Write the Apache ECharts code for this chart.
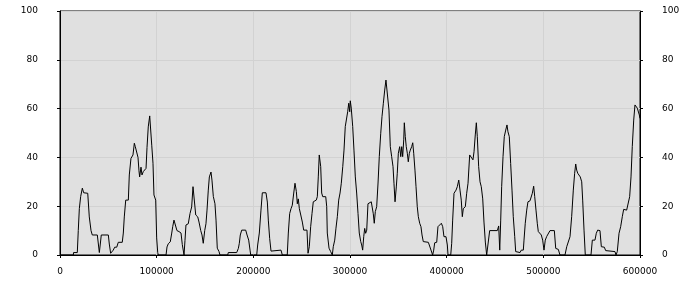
<!DOCTYPE html>
<html>
<head>
<meta charset="utf-8">
<script src="https://cdn.jsdelivr.net/npm/echarts@6/dist/echarts.min.js"></script>
<style>html,body{margin:0;padding:0;background:#fff;}#c{width:700px;height:300px;}</style>
</head>
<body>
<div id="c"></div>
<script>
var xValues = [0,13800,14000,17900,18900,20000,21400,23100,24500,28700,29300,30300,32100,33400,38600,39600,40700,41700,42700,50000,51000,52400,54100,55100,56600,58700,60300,64400,65500,66500,68000,69300,70700,71700,73400,75500,76900,77900,79300,80700,81700,82400,83800,84800,86200,87900,89000,90000,91300,92800,93800,94900,96200,97200,99000,100000,101100,101700,109700,110700,112000,114100,115600,116600,117900,119700,121000,123100,125200,126500,128300,129300,130300,132700,134500,136200,137600,138900,140400,142500,143800,145600,146900,148200,149700,151000,152100,153400,154500,156200,157200,158600,160300,161400,162700,164500,165500,173500,174100,182800,184500,185500,186500,188000,192100,193500,195200,196600,197300,203500,204500,206200,207900,209300,213100,214500,215500,216900,218300,219300,228600,230000,235100,236200,237600,239000,240300,241800,243100,244500,245500,246500,247600,249300,250700,252100,255500,256600,257900,259300,260700,262000,265100,266200,267200,268200,269000,269700,270700,271800,274900,275900,276500,278300,280000,281700,282700,284200,285500,286900,288300,289700,291000,292500,293800,295100,296600,297600,298700,299700,300300,301300,302800,304100,305500,306900,308300,309600,311100,312100,313100,314200,315200,316200,317300,318600,320000,322000,323100,324100,325100,326200,327600,329000,330300,331800,333100,334500,335900,337200,338600,339000,340300,341700,343100,344500,345500,346600,347900,348900,350000,351400,352500,353500,354500,355600,356200,357200,358200,359300,360300,361400,362400,363800,364900,365900,367200,368300,369600,370700,372100,373400,374500,375800,381000,382000,383800,385500,386600,387600,389700,391000,392400,394500,395900,397200,399300,400700,401400,404200,405200,406200,407600,409700,411000,412500,413800,415100,416200,417200,419300,420700,422100,423800,425500,427200,428300,429600,430700,431700,433100,434500,435800,437300,438600,440000,441400,442800,444500,452400,453800,454900,455900,456900,458300,459600,461100,462400,463400,464800,466200,467600,468900,470400,471400,472800,475900,477200,479300,480000,481300,482800,484100,486200,487600,488600,490000,491100,492400,493800,494800,496600,497900,499300,500700,502000,503500,505100,506900,511400,512800,515500,517200,522400,524200,525800,527600,529300,531000,532400,533500,534500,535600,536900,538200,539700,540700,542100,543400,549300,550700,553400,554800,556200,558600,560000,563100,564500,574100,575200,576500,578300,580000,581700,583100,584500,586200,587900,589300,590700,592000,593500,594800,596200,597200,598200,599300,600000];
var yValues = [0,0,1,1,10,19,24,27.4,25.5,25.3,24.6,15.6,10,8.2,8.2,7.5,1,4.5,8.2,8.2,4.5,0.7,0,2,3.2,3.2,5.2,5.2,9,15.6,22.5,23.2,22.5,32.8,39.6,41,45.8,44.4,43.7,40,34.5,32,36,32.8,34.2,33.5,35.5,44,52.5,57,56.6,45,37.6,24.6,22.5,7,1,0,0,3.3,4.6,5.4,9,11.6,14.3,14.3,10,9.6,9,4.3,0,6,12.3,12.8,17,19.7,28,28,16.4,15.6,13.5,10,8.2,4.8,10,12.8,18.4,26.6,32,34,30.7,24,21,14.3,2.8,1.4,0,0,1,1,2.7,4.8,8.2,10.2,10.2,8.2,6.1,2,0,0,4.1,9,18.4,25.5,25.5,21.7,14.3,6.8,1.6,2,2,0,0,9,17,19,20.4,25.4,29.4,26,21,23,19,18.4,13.5,10.2,10.2,0.7,3.4,11.6,17,21.8,22.5,23.9,32,41,40.3,36.2,25.4,23.9,23.9,19.8,9,2.8,1.4,0,3.4,6.1,11,15.7,22.5,25.4,29.4,36.2,43,52.6,53,58.7,62.2,58.7,63.2,60.2,52.6,43,32,25.4,17,9,5.5,4.1,2,7.5,10.9,8.9,10.2,21,21.8,21.8,21,16.9,13,17.8,19.8,29.5,40.3,49.9,56.7,62.2,67.6,71.7,72.4,71.7,59.4,44.4,40.3,36.2,29.4,21.8,27.9,33.5,41.7,44.4,40.3,44.4,40.3,47.2,54.2,48.5,44.4,41.7,38.2,41.7,43,44.4,46,41.7,34.8,28,19.8,15.7,13,11.6,8.2,5.5,5.2,4.1,3.4,0,2,5,5.2,11.6,12.3,13,11.6,7.5,7.5,4.1,0,0,4.8,14.3,25.3,26.6,28,30.7,26.6,22.5,15.7,19,19.8,25.3,29.4,41,40.3,39,42.3,49.2,54.2,48.5,36.2,30,28,23,13.5,5.3,0,0,10,10,11.9,2,14.3,28,40.3,48.5,51.2,53.3,50.5,48.5,37.5,26.6,15.7,7.5,1.4,1,1,2,2,6.1,13,18.4,21.8,22.2,22.5,25.3,28.2,23.9,18.4,12.8,9.6,8.9,8.2,6.1,2,6.1,7.6,7.4,10,10,2.7,2.3,0,0,3.4,4.1,7.5,15.7,26.6,33.5,37.3,34.8,33.5,33.5,32,30,22.5,10.2,0,0,6.1,6.1,8.9,10.2,10,3.4,3.2,1.8,1.4,0,1.4,8.9,11.6,15.7,18.7,19.1,18.4,19.1,23.9,32,44.4,55.3,61.5,61.9,60.2,59.8,57.4,56];
var xTicks = [0,100000,200000,300000,400000,500000,600000];
var yTicks = [0,20,40,60,80,100];

var points = xValues.map(function(x, i){ return [x, yValues[i]]; });
var chart = echarts.init(document.getElementById('c'), null, {renderer:'canvas'});
var font = {fontFamily:'DejaVu Sans', fontSize:9, color:'#000', formatter:function(v){ return String(v); }};
function yAxisDef(pos){
  return {
    type:'value', position:pos, min:yTicks[0], max:yTicks[yTicks.length-1], interval:20,
    axisLine:{show:true, lineStyle:{color:'#000', width:1}},
    axisTick:{show:true, inside:false, length:3, lineStyle:{color:'#000'}},
    axisLabel:Object.assign({margin:22}, font),
    splitLine:{show:pos==='left', lineStyle:{color:'#d2d2d2', width:1}}
  };
}
chart.setOption({
  animation:false,
  backgroundColor:'#fff',
  grid:{left:60, right:60, top:11, bottom:45, show:true, backgroundColor:'#e0e0e0', borderColor:'#000', borderWidth:1},
  xAxis:{
    type:'value', min:xTicks[0], max:xTicks[xTicks.length-1], interval:100000,
    axisLine:{show:true, lineStyle:{color:'#000', width:1}},
    axisTick:{show:true, inside:false, length:3, lineStyle:{color:'#000'}},
    axisLabel:Object.assign({margin:12}, font),
    splitLine:{show:true, lineStyle:{color:'#d2d2d2', width:1}}
  },
  yAxis:[yAxisDef('left'), yAxisDef('right')],
  series:[{
    type:'line', data:points, showSymbol:false, symbol:'none', smooth:false,
    lineStyle:{color:'#000', width:1}, silent:true
  }]
});
</script>
</body>
</html>
